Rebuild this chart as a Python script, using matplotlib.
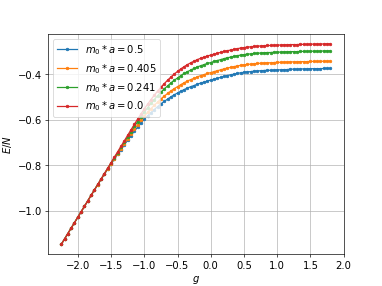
import matplotlib
matplotlib.use("Agg")
from matplotlib import pyplot as plt

plt.rcParams['font.size'] = 12

# coupling grid
g = [-2.25, -2.20, -2.15, -2.10, -2.05, -2.00, -1.95, -1.90, -1.85, -1.80,
     -1.75, -1.70, -1.65, -1.60, -1.55, -1.50, -1.45, -1.40, -1.35, -1.30,
     -1.25, -1.20, -1.15, -1.10, -1.05, -1.00, -0.95, -0.90, -0.85, -0.80,
     -0.75, -0.70, -0.65, -0.60, -0.55, -0.50, -0.45, -0.40, -0.35, -0.30,
     -0.25, -0.20, -0.15, -0.10, -0.05, 0.00, 0.05, 0.10, 0.15, 0.20,
     0.25, 0.30, 0.35, 0.40, 0.45, 0.50, 0.55, 0.60, 0.65, 0.70,
     0.75, 0.80, 0.85, 0.90, 0.95, 1.00, 1.05, 1.10, 1.15, 1.20,
     1.25, 1.30, 1.35, 1.40, 1.45, 1.50, 1.55, 1.60, 1.65, 1.70,
     1.75, 1.80]

# E/N for each mass
e_m05 = [-1.149, -1.125, -1.101, -1.077, -1.053, -1.029, -1.005, -0.981, -0.957, -0.933,
         -0.909, -0.886, -0.863, -0.840, -0.818, -0.796, -0.774, -0.753, -0.732, -0.711,
         -0.691, -0.671, -0.651, -0.633, -0.615, -0.598, -0.583, -0.569, -0.556, -0.543,
         -0.531, -0.520, -0.510, -0.500, -0.491, -0.483, -0.475, -0.468, -0.461, -0.455,
         -0.450, -0.444, -0.439, -0.435, -0.430, -0.426, -0.422, -0.418, -0.414, -0.410,
         -0.406, -0.403, -0.400, -0.397, -0.394, -0.392, -0.390, -0.389, -0.387, -0.386,
         -0.385, -0.384, -0.383, -0.383, -0.382, -0.381, -0.381, -0.380, -0.380, -0.378,
         -0.378, -0.378, -0.377, -0.377, -0.377, -0.376, -0.376, -0.376, -0.376, -0.375,
         -0.375, -0.375]

e_m0405 = [-1.149, -1.125, -1.101, -1.077, -1.053, -1.029, -1.005, -0.981, -0.957, -0.933,
           -0.909, -0.886, -0.862, -0.839, -0.817, -0.794, -0.771, -0.749, -0.728, -0.706,
           -0.684, -0.663, -0.642, -0.623, -0.603, -0.585, -0.568, -0.552, -0.537, -0.523,
           -0.509, -0.497, -0.485, -0.474, -0.464, -0.455, -0.446, -0.438, -0.430, -0.424,
           -0.418, -0.412, -0.406, -0.402, -0.397, -0.393, -0.389, -0.385, -0.381, -0.377,
           -0.373, -0.370, -0.367, -0.364, -0.361, -0.359, -0.357, -0.356, -0.354, -0.353,
           -0.352, -0.351, -0.350, -0.350, -0.349, -0.348, -0.348, -0.347, -0.347, -0.346,
           -0.346, -0.346, -0.345, -0.345, -0.345, -0.344, -0.344, -0.344, -0.344, -0.343,
           -0.343, -0.343]

e_m0241 = [-1.149, -1.125, -1.101, -1.077, -1.053, -1.029, -1.005, -0.981, -0.957, -0.933,
           -0.909, -0.885, -0.862, -0.838, -0.814, -0.791, -0.768, -0.745, -0.722, -0.698,
           -0.676, -0.653, -0.630, -0.609, -0.587, -0.567, -0.547, -0.529, -0.512, -0.495,
           -0.480, -0.465, -0.452, -0.439, -0.427, -0.417, -0.406, -0.397, -0.389, -0.382,
           -0.375, -0.368, -0.363, -0.358, -0.353, -0.349, -0.344, -0.340, -0.336, -0.332,
           -0.328, -0.325, -0.322, -0.319, -0.316, -0.314, -0.312, -0.311, -0.309, -0.308,
           -0.307, -0.306, -0.305, -0.305, -0.304, -0.303, -0.303, -0.302, -0.302, -0.301,
           -0.301, -0.301, -0.300, -0.300, -0.300, -0.299, -0.299, -0.299, -0.299, -0.298,
           -0.298, -0.298]

e_m0 = [-1.149, -1.125, -1.101, -1.077, -1.053, -1.029, -1.005, -0.981, -0.957, -0.933,
        -0.909, -0.885, -0.861, -0.837, -0.813, -0.789, -0.765, -0.741, -0.717, -0.693,
        -0.669, -0.645, -0.621, -0.598, -0.575, -0.553, -0.532, -0.512, -0.493, -0.475,
        -0.458, -0.442, -0.427, -0.413, -0.400, -0.388, -0.377, -0.367, -0.358, -0.350,
        -0.343, -0.336, -0.330, -0.325, -0.320, -0.316, -0.312, -0.308, -0.304, -0.300,
        -0.297, -0.294, -0.291, -0.288, -0.285, -0.283, -0.281, -0.280, -0.278, -0.277,
        -0.276, -0.275, -0.274, -0.274, -0.273, -0.272, -0.272, -0.271, -0.271, -0.270,
        -0.270, -0.270, -0.269, -0.269, -0.269, -0.268, -0.268, -0.268, -0.268, -0.267,
        -0.267, -0.267]

labels = ["$m_0 * a = 0.5$", "$m_0 * a = 0.405$", "$m_0 * a = 0.241$", "$m_0 * a = 0.0$"]

fig, ax = plt.subplots(figsize=(6.4, 4.8), dpi=382 / 6.4)

for e, lab in zip([e_m05, e_m0405, e_m0241, e_m0], labels):
    ax.plot(g, e, marker='.', label=lab)

ax.set_xlabel("$g$")
ax.set_ylabel("$E/N$")
ax.grid(True)
ax.legend(loc='upper left')

fig.savefig("out.png")
